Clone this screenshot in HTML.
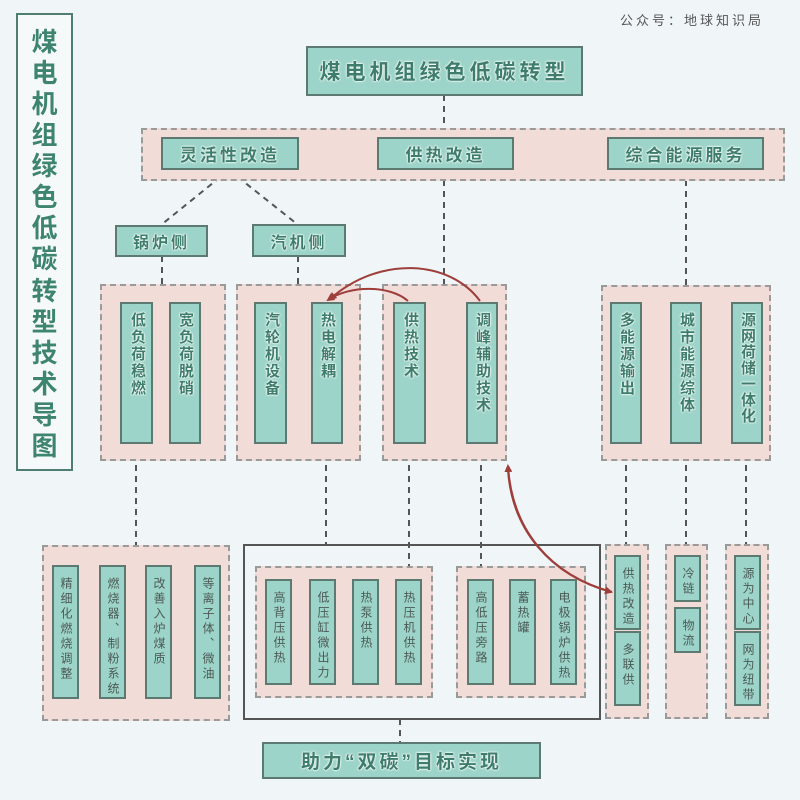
<!DOCTYPE html>
<html><head><meta charset="utf-8">
<style>
*{margin:0;padding:0;box-sizing:border-box}
body{width:800px;height:800px;background:#f0f6f8;position:relative;overflow:hidden;font-family:"Liberation Sans","Noto Sans CJK SC",sans-serif}
.a{position:absolute}
.pk{position:absolute;background:#f1dcd8;border:2px dashed #9a9a9a}
.tl{position:absolute;background:#9dd4c9;border:2px solid #5c7a72;display:flex;align-items:center;justify-content:center;color:#3e7d6c;font-weight:bold;text-shadow:0 0 2px #fff,0 0 2px #fff,0 0 1px #fff}
.v{position:absolute;background:#9dd4c9;border:2px solid #5c7a72;padding-top:8px;writing-mode:vertical-rl;text-orientation:upright;color:#3e7d6c;font-weight:bold;font-size:15px;letter-spacing:2px;text-shadow:0 0 2px #fff,0 0 2px #fff,0 0 1px #fff;line-height:28px}
.s{font-size:12px;color:#4c5a56;font-weight:normal;text-shadow:none;letter-spacing:3px;line-height:23px;padding-top:10px}
svg{position:absolute;left:0;top:0}
</style></head><body>
<div class="a" style="left:620px;top:10px;font-size:13px;color:#555;letter-spacing:3px">公众号：地球知识局</div>
<div class="a" style="left:16px;top:13px;width:57px;height:458px;border:2px solid #4f7d70;background:#f5f9f9;display:flex;flex-direction:column;align-items:center;justify-content:space-between;padding:14px 0 10px;font-size:26px;font-weight:bold;color:#3e8570;text-shadow:0 0 2px #fff,0 0 2px #fff;line-height:1">
<span>煤</span><span>电</span><span>机</span><span>组</span><span>绿</span><span>色</span><span>低</span><span>碳</span><span>转</span><span>型</span><span>技</span><span>术</span><span>导</span><span>图</span></div>

<svg width="800" height="800">
<g stroke="#555" stroke-width="2" stroke-dasharray="6,5" fill="none">
<line x1="444" y1="95" x2="444" y2="128"/>
<line x1="444" y1="169" x2="444" y2="284"/>
<line x1="686" y1="169" x2="686" y2="285"/>
<line x1="229" y1="170" x2="161" y2="225"/>
<line x1="229" y1="170" x2="297" y2="224"/>
<line x1="162" y1="256" x2="162" y2="284"/>
<line x1="298" y1="256" x2="298" y2="284"/>
<line x1="136" y1="443" x2="136" y2="545"/>
<line x1="326" y1="443" x2="326" y2="544"/>
<line x1="409" y1="443" x2="409" y2="580"/>
<line x1="481" y1="443" x2="481" y2="580"/>
<line x1="626" y1="443" x2="626" y2="545"/>
<line x1="686" y1="443" x2="686" y2="545"/>
<line x1="746" y1="443" x2="746" y2="545"/>
<line x1="400" y1="719" x2="400" y2="742"/>
</g>
</svg>

<div class="a" style="left:243px;top:544px;width:358px;height:176px;border:2px solid #555"></div>

<div class="tl" style="left:306px;top:46px;width:277px;height:50px;font-size:21px;letter-spacing:4px">煤电机组绿色低碳转型</div>
<div class="pk" style="left:141px;top:128px;width:644px;height:53px"></div>
<div class="tl" style="left:161px;top:137px;width:138px;height:33px;font-size:17px;letter-spacing:3px">灵活性改造</div>
<div class="tl" style="left:377px;top:137px;width:137px;height:33px;font-size:17px;letter-spacing:3px">供热改造</div>
<div class="tl" style="left:607px;top:137px;width:157px;height:33px;font-size:17px;letter-spacing:3px">综合能源服务</div>
<div class="tl" style="left:115px;top:225px;width:93px;height:32px;font-size:16px;letter-spacing:3px">锅炉侧</div>
<div class="tl" style="left:252px;top:224px;width:94px;height:33px;font-size:16px;letter-spacing:3px">汽机侧</div>

<div class="pk" style="left:100px;top:284px;width:126px;height:177px"></div>
<div class="pk" style="left:236px;top:284px;width:125px;height:177px"></div>
<div class="pk" style="left:382px;top:284px;width:125px;height:177px"></div>
<div class="pk" style="left:601px;top:285px;width:170px;height:176px"></div>
<div class="v" style="left:120px;top:302px;width:33px;height:142px">低负荷稳燃</div>
<div class="v" style="left:169px;top:302px;width:32px;height:142px">宽负荷脱硝</div>
<div class="v" style="left:254px;top:302px;width:33px;height:142px">汽轮机设备</div>
<div class="v" style="left:311px;top:302px;width:32px;height:142px">热电解耦</div>
<div class="v" style="left:393px;top:302px;width:33px;height:142px">供热技术</div>
<div class="v" style="left:466px;top:302px;width:32px;height:142px">调峰辅助技术</div>
<div class="v" style="left:610px;top:302px;width:32px;height:142px">多能源输出</div>
<div class="v" style="left:670px;top:302px;width:32px;height:142px">城市能源综体</div>
<div class="v" style="left:731px;top:302px;width:32px;height:142px;letter-spacing:1px">源网荷储一体化</div>

<div class="pk" style="left:42px;top:545px;width:188px;height:176px"></div>
<div class="v s" style="left:52px;top:565px;width:27px;height:134px">精细化燃烧调整</div>
<div class="v s" style="left:99px;top:565px;width:27px;height:134px">燃烧器、制粉系统</div>
<div class="v s" style="left:145px;top:565px;width:27px;height:134px">改善入炉煤质</div>
<div class="v s" style="left:194px;top:565px;width:27px;height:134px">等离子体、微油</div>

<div class="pk" style="left:255px;top:566px;width:178px;height:132px"></div>
<div class="v s" style="left:265px;top:579px;width:27px;height:106px">高背压供热</div>
<div class="v s" style="left:309px;top:579px;width:27px;height:106px">低压缸微出力</div>
<div class="v s" style="left:352px;top:579px;width:27px;height:106px">热泵供热</div>
<div class="v s" style="left:395px;top:579px;width:27px;height:106px">热压机供热</div>
<div class="pk" style="left:456px;top:566px;width:130px;height:132px"></div>
<div class="v s" style="left:467px;top:579px;width:27px;height:106px">高低压旁路</div>
<div class="v s" style="left:509px;top:579px;width:27px;height:106px">蓄热罐</div>
<div class="v s" style="left:550px;top:579px;width:27px;height:106px">电极锅炉供热</div>

<div class="pk" style="left:605px;top:544px;width:44px;height:175px"></div>
<div class="v s" style="left:614px;top:555px;width:27px;height:75px">供热改造</div>
<div class="v s" style="left:614px;top:631px;width:27px;height:75px">多联供</div>
<div class="pk" style="left:665px;top:544px;width:43px;height:175px"></div>
<div class="v s" style="left:674px;top:555px;width:27px;height:47px">冷链</div>
<div class="v s" style="left:674px;top:607px;width:27px;height:46px">物流</div>
<div class="pk" style="left:725px;top:544px;width:44px;height:175px"></div>
<div class="v s" style="left:734px;top:555px;width:27px;height:75px">源为中心</div>
<div class="v s" style="left:734px;top:631px;width:27px;height:75px">网为纽带</div>

<div class="tl" style="left:262px;top:742px;width:279px;height:37px;font-size:19px;letter-spacing:3px">助力“双碳”目标实现</div>

<svg width="800" height="800">
<defs><marker id="ar" markerWidth="8" markerHeight="8" refX="6" refY="4" orient="auto" markerUnits="userSpaceOnUse"><path d="M0,0 L8,4 L0,8z" fill="#9e3e3b"/></marker></defs>
<g stroke="#9e3e3b" stroke-width="2" fill="none">
<path d="M408,301 C390,285 350,285 328,300" marker-end="url(#ar)"/>
<path d="M480,301 C450,260 380,255 330,299" marker-end="url(#ar)"/>
<path d="M612,592 C550,575 512,530 508,466" marker-end="url(#ar)"/>
<path d="M508,470 C512,530 550,575 611,592" marker-end="url(#ar)"/>
</g>
</svg>
</body></html>
